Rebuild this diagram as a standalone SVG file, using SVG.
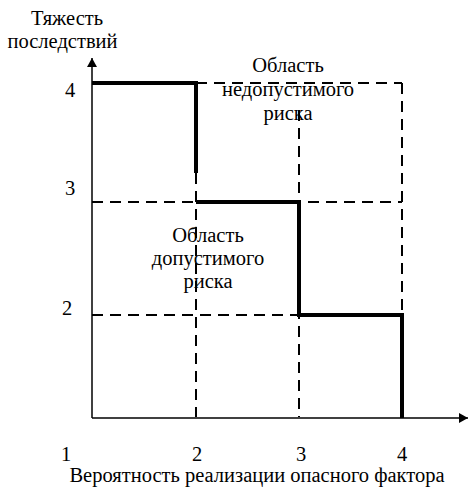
<svg xmlns="http://www.w3.org/2000/svg" width="468" height="488" viewBox="0 0 468 488">
<style>
text{font-family:"Liberation Serif","Times New Roman",serif;font-size:20.5px;fill:#000}
.c{text-anchor:middle}
.axis{stroke:#000;stroke-width:1.5;fill:none}
.dash{stroke:#000;stroke-width:2;stroke-dasharray:11 7;fill:none}
.thick{stroke:#000;stroke-width:4;fill:none;stroke-linejoin:miter}
</style>
<defs>
<marker id="arr" viewBox="0 0 9 10" refX="9" refY="5" markerWidth="9" markerHeight="10" orient="auto" markerUnits="userSpaceOnUse">
<path d="M0,0 L9,5 L0,10 Z" fill="#000"/>
</marker>
</defs>
<g id="grid">
<path class="dash" d="M196,83 H402"/>
<path class="dash" d="M92,202 H402"/>
<path class="dash" d="M92,315 H402"/>
<path class="dash" d="M196,173 V417"/>
<path class="dash" d="M299,110 V417"/>
<path class="dash" d="M402,83 V417"/>
</g>
<g id="axes">
<path class="axis" d="M92,418 V58" marker-end="url(#arr)"/>
<path class="axis" d="M92,418 H468" marker-end="url(#arr)"/>
</g>
<g id="boundary">
<path class="thick" d="M92,83 H196 V173"/>
<path class="thick" d="M196,202 H299 V315 H402 V418"/>
</g>
<g id="labels">
<text class="c" x="67" y="25">Тяжесть</text>
<text class="c" x="62.5" y="48">последствий</text>
<text class="c" x="70" y="97">4</text>
<text class="c" x="70" y="195">3</text>
<text class="c" x="67" y="315">2</text>
<text class="c" x="66" y="461">1</text>
<text class="c" x="197" y="461">2</text>
<text class="c" x="301" y="461">3</text>
<text class="c" x="402" y="461">4</text>
<text class="c" x="257" y="482">Вероятность реализации опасного фактора</text>
</g>
<g id="unacceptable">
<text class="c" x="288" y="72">Область</text>
<text class="c" x="288" y="96">недопустимого</text>
<text class="c" x="288" y="120">риска</text>
</g>
<g id="acceptable">
<text class="c" x="208" y="242">Область</text>
<text class="c" x="208" y="265">допустимого</text>
<text class="c" x="208" y="288">риска</text>
</g>
</svg>
